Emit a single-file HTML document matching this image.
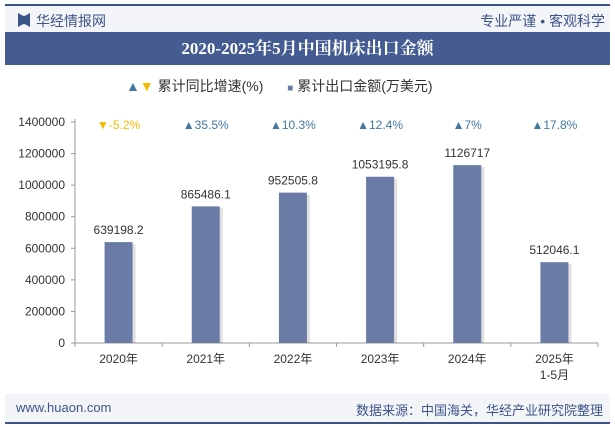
<!DOCTYPE html>
<html><head><meta charset="utf-8">
<style>
body{margin:0;width:615px;height:427px;overflow:hidden;background:#fff;font-family:"Liberation Sans","Noto Sans CJK SC",sans-serif;position:relative}
.abs{position:absolute}
</style></head><body>
<div class="abs" style="left:5px;top:4px;width:605px;height:2px;background:#3d5488"></div>
<div class="abs" style="left:5px;top:6px;width:605px;height:26px;background:#f3f5f9"></div>
<div class="abs" style="left:18px;top:13px;width:12px;height:14px;background:#3d5488;clip-path:polygon(0 0,40% 20%,60% 20%,100% 0,100% 100%,60% 80%,40% 80%,0 100%)"></div>
<div class="abs" style="left:36px;top:11px;font-size:14px;color:#3d5488">华经情报网</div>
<div class="abs" style="right:10px;top:11px;font-size:14px;color:#3d5488">专业严谨 • 客观科学</div>
<div class="abs" style="left:5px;top:32px;width:605px;height:33px;background:#445c92;color:#fff;font-size:17px;font-weight:bold;text-align:center;line-height:33px;font-family:'Liberation Serif','Noto Serif CJK SC',serif">2020-2025年5月中国机床出口金额</div>
<div class="abs" style="left:126px;top:76px;font-size:14px;color:#333;white-space:nowrap">
<span><span style="color:#3f78a0">▲</span><span style="color:#f5b800">▼</span> 累计同比增速(%)</span>
<span style="margin-left:20px"><span style="color:#6a7ca5;font-size:10px">■</span> 累计出口金额(万美元)</span>
</div>
<div class="abs" style="left:5px;top:394px;width:605px;height:28px;background:#f3f5f9"></div>
<div class="abs" style="left:5px;top:422px;width:605px;height:2px;background:#3d5488"></div>
<div class="abs" style="left:16px;top:400px;font-size:13px;color:#3d5488">www.huaon.com</div>
<div class="abs" style="right:12px;top:400px;font-size:13px;color:#3d5488">数据来源：中国海关，华经产业研究院整理</div>
<svg class="abs" style="left:0;top:0" width="615" height="427" id="chart"></svg>
<script>
const categories=["2020年","2021年","2022年","2023年","2024年","2025年"];
const values=[639198.2,865486.1,952505.8,1053195.8,1126717,512046.1];
const valueLabels=["639198.2","865486.1","952505.8","1053195.8","1126717","512046.1"];
const growth=[-5.2,35.5,10.3,12.4,7,17.8];
const yTicks=[0,200000,400000,600000,800000,1000000,1200000,1400000];
const NS="http://www.w3.org/2000/svg";
const svg=document.getElementById('chart');
const x0=75,x1=598,y0=343,y1=122,maxV=1400000;
const bw=(x1-x0)/categories.length;
const y=v=>y0-(v/maxV)*(y0-y1);
const cx=i=>x0+bw*(i+0.5);
function mk(t,a,txt){const e=document.createElementNS(NS,t);for(const k in a)e.setAttribute(k,a[k]);if(txt!==undefined)e.textContent=txt;svg.appendChild(e);return e;}
let e=mk('line',{x1:x0,y1:y1-3,x2:x0,y2:y0,stroke:'#999'});

e=mk('line',{x1:x0,y1:y0,x2:x1,y2:y0,stroke:'#999'});

yTicks.forEach(t=>{
 const l=mk('line',{x1:x0-4,y1:y(t),x2:x0,y2:y(t),stroke:'#999'});
 
 const tx=mk('text',{x:x0-10,y:y(t)+4,'text-anchor':'end','font-size':12,fill:'#333'},String(t));
 
});
for(let i=0;i<=categories.length;i++){
 const l=mk('line',{x1:x0+bw*i,y1:y0,x2:x0+bw*i,y2:y0+4,stroke:'#999'});
 
}
categories.forEach((c,i)=>{
 const s=mk('rect',{x:cx(i)-14+3,y:y(values[i])+2,width:28,height:y0-y(values[i])-2,fill:'#000',opacity:0.12});
 
 const r=mk('rect',{x:cx(i)-14,y:y(values[i]),width:28,height:y0-y(values[i]),fill:'#6a7ca5'});
 
 const v=mk('text',{x:cx(i),y:y(values[i])-8,'text-anchor':'middle','font-size':12,fill:'#333'},valueLabels[i]);
 
 const xl=mk('text',{x:cx(i),y:y0+20,'text-anchor':'middle','font-size':12,fill:'#333'},c);
 
 const g=growth[i],neg=g<0;
 const gl=mk('text',{x:cx(i),y:129,'text-anchor':'middle','font-size':12,fill:neg?'#f5b800':'#3f78a0'},(neg?'▼':'▲')+g+'%');
 
});
e=mk('text',{x:cx(5),y:y0+36,'text-anchor':'middle','font-size':12,fill:'#333'},'1-5月');

</script>
</body></html>
